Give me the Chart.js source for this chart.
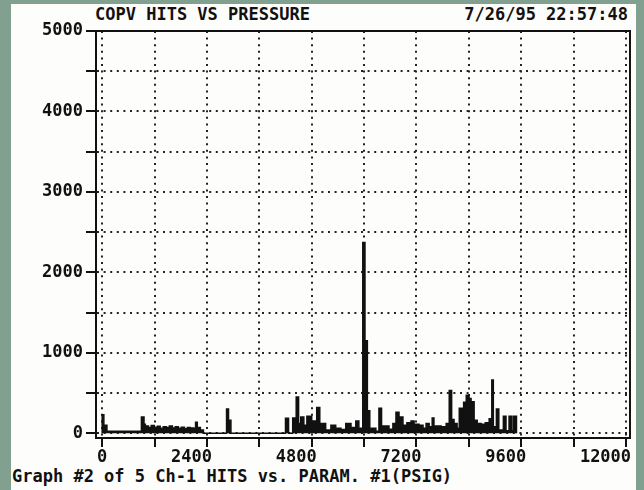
<!DOCTYPE html>
<html>
<head>
<meta charset="utf-8">
<script src="https://cdn.jsdelivr.net/npm/chart.js@4/dist/chart.umd.min.js"></script>
<style>
  html, body { margin: 0; padding: 0; }
  body { width: 644px; height: 490px; background: #82a08f; position: relative; overflow: hidden; }
  .sheet { position: absolute; left: 11px; top: 4px; width: 625px; height: 486px; background: #fdfdfb; }
  .txt { position: absolute; font-family: 'DejaVu Sans Mono', monospace; font-weight: bold; color: #111; white-space: pre; font-size: 17px; line-height: 17px; }
  #chartBox { position: absolute; left: 0; top: 0; width: 644px; height: 490px; }
</style>
</head>
<body>
<div class="sheet"></div>
<div class="txt" style="left:95px; top:6px;">COPV HITS VS PRESSURE</div>
<div class="txt" style="right:16px; top:6px;">7/26/95 22:57:48</div>
<div class="txt" style="left:12px; top:468px;">Graph #2 of 5 Ch-1 HITS vs. PARAM. #1(PSIG)</div>
<div id="chartBox"><canvas id="c" width="644" height="490"></canvas></div>
<script>
// left edge of each step (PSIG) and hit count held until the next edge
const pressure = [
  -20, 40, 110, 900, 960, 990, 1060, 1125, 1195, 1265, 1330, 1400, 1470, 1540, 1610,
  1675, 1745, 1815, 1885, 1950, 2020, 2090, 2140, 2180, 2250, 2320, 2850, 2895, 2950,
  4200, 4270, 4365, 4445, 4500, 4550, 4620, 4690, 4800, 4915, 4985, 5010, 5120, 5240,
  5350, 5470, 5580, 5700, 5810, 5880, 5970, 6020, 6075, 6130, 6270, 6340, 6400, 6570,
  6660, 6730, 6800, 6890, 6980, 7075, 7145, 7260, 7350, 7420, 7490, 7560, 7600, 7765,
  7880, 7950, 8005, 8060, 8130, 8180, 8245, 8280, 8340, 8405, 8450, 8520, 8590, 8680,
  8775, 8865, 8925, 8960, 9030, 9085, 9190, 9250, 9320, 9380, 9420, 9490
];
const hits = [
  230, 100, 25, 200, 110, 90, 70, 95, 75, 85, 60, 80, 70, 90, 65,
  80, 60, 75, 55, 70, 65, 60, 135, 70, 40, 0, 300, 160, 0,
  185, 0, 190, 450, 120, 200, 100, 210, 150, 320, 60, 120, 40, 100,
  60, 45, 120, 70, 150, 60, 2370, 1150, 280, 60, 25, 310, 90, 50,
  120, 260, 200, 100, 130, 150, 110, 100, 60, 120, 80, 190, 90, 80,
  120, 530, 170, 120, 60, 310, 240, 385, 470, 430, 390, 160, 120, 110,
  130, 180, 660, 80, 300, 40, 210, 30, 210, 30, 210, 0
];

// axis ticks: every step gets a grid line, every label step gets a number
const xTicks = { from: 0, to: 12000, step: 1200, labelStep: 2400 };
const yTicks = { from: 0, to: 5000, step: 500, labelStep: 1000 };

const tickFont = { family: 'DejaVu Sans Mono', size: 17, weight: 'bold' };

function fixedTicks(t) {
  return function (scale) {
    const out = [];
    for (let v = t.from; v <= t.to; v += t.step) out.push({ value: v });
    scale.ticks = out;
  };
}

const frame = {
  id: 'frame',
  afterDraw(chart) {
    const a = chart.chartArea;
    const ctx = chart.ctx;
    ctx.save();
    ctx.strokeStyle = '#111';
    ctx.lineWidth = 2;
    ctx.strokeRect(a.left, a.top, a.right - a.left, a.bottom - a.top);
    ctx.restore();
  }
};

new Chart(document.getElementById('c'), {
  type: 'line',
  data: {
    datasets: [{
      data: pressure.map((p, i) => ({ x: p, y: hits[i] })),
      stepped: true,
      borderColor: '#111',
      backgroundColor: '#111',
      borderWidth: 1.5,
      pointRadius: 0,
      fill: 'origin',
    }],
  },
  options: {
    responsive: false,
    animation: false,
    layout: { padding: { left: 0, top: 31, right: 14, bottom: 0 } },
    plugins: { legend: { display: false }, tooltip: { enabled: false } },
    scales: {
      x: {
        type: 'linear',
        min: -140,
        max: 12090,
        afterBuildTicks: fixedTicks(xTicks),
        afterFit(scale) { scale.height = 52; },
        ticks: {
          autoSkip: false,
          maxRotation: 0,
          align: 'end',
          labelOffset: 5,
          padding: 0,
          color: '#111',
          font: tickFont,
          callback: v => (Math.round(v) % xTicks.labelStep === 0 ? String(Math.round(v)) : ''),
        },
        grid: {
          color: '#222',
          lineWidth: 2,
          tickLength: 9,
          tickColor: '#111',
          tickWidth: 2,
          tickBorderDash: [],
        },
        border: { display: true, color: '#111', width: 2, dash: [2, 4.6] },
      },
      y: {
        type: 'linear',
        min: -60,
        max: 5000,
        afterBuildTicks: fixedTicks(yTicks),
        afterFit(scale) { scale.width = 96; },
        ticks: {
          autoSkip: false,
          padding: 3,
          color: '#111',
          font: tickFont,
          callback: v => (Math.round(v) % yTicks.labelStep === 0 ? String(Math.round(v)) : ''),
        },
        grid: {
          color: '#222',
          lineWidth: 2,
          tickLength: 10,
          tickColor: '#111',
          tickWidth: 2,
          tickBorderDash: [],
        },
        border: { display: true, color: '#111', width: 2, dash: [2, 4.6] },
      },
    },
  },
  plugins: [frame],
});
</script>
</body>
</html>
